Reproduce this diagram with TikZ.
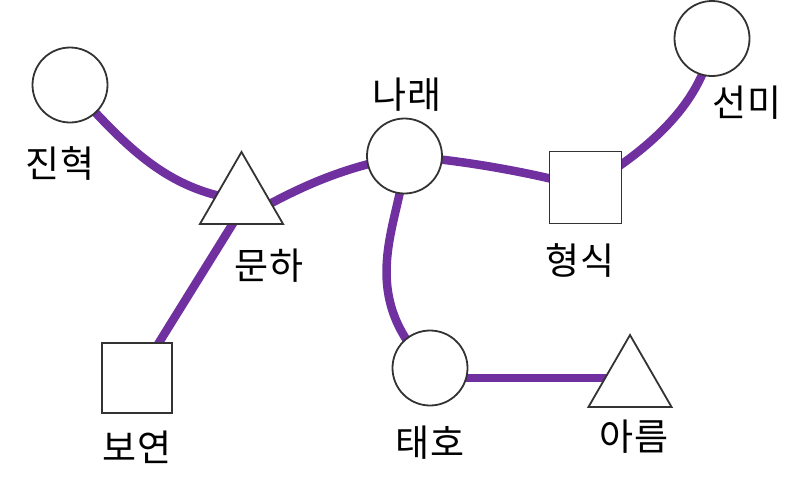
\documentclass[tikz,border=0pt]{standalone}
\usepackage{fontspec}
\setmainfont{Noto Sans CJK KR}
\usetikzlibrary{shapes.geometric,backgrounds}
\definecolor{edgepurple}{HTML}{7030A0}
\definecolor{nodegray}{HTML}{333333}
\tikzset{
  x=1pt,y=1pt,
  base/.style={draw=nodegray,line width=1.8pt,fill=white,inner sep=0pt,outer sep=0pt},
  circ/.style={base,circle,minimum size=75pt},
  sq/.style={base,rectangle,minimum size=70pt},
  tri/.style={base,regular polygon,regular polygon sides=3,minimum size=96pt},
  lbl/.style={font=\fontsize{37}{42}\selectfont,inner sep=0pt},
  link/.style={draw=edgepurple,line width=8.5pt}
}
\begin{document}
\begin{tikzpicture}
\useasboundingbox (0,0) rectangle (810,-493);
% nodes
\node[circ] (jh) at (70,-85) {};
\node[tri]  (mh) at (241.5,-200) {};
\node[circ] (nr) at (404.5,-156) {};
\node[sq,minimum size=72pt] (hs) at (585.5,-187.5) {};
\node[circ] (sm) at (712,-38.5) {};
\node[sq]   (by) at (137,-378) {};
\node[circ] (th) at (430,-368) {};
\node[tri]  (ar) at (630,-383) {};
% labels
\node[lbl] (ljh) at (60,-163) {진혁};
\node[lbl] (lmh) at (269,-266) {문하};
\node[lbl] (lnr) at (407,-95) {나래};
\node[lbl] (lsm) at (747,-103) {선미};
\node[lbl] (lhs) at (580,-260) {형식};
\node[lbl] (lby) at (137,-447) {보연};
\node[lbl] (lth) at (430,-443) {태호};
\node[lbl] (lar) at (634,-437) {아름};
% connectors
\begin{pgfonlayer}{background}
\draw[link] (jh.center) .. controls (125,-145) and (165,-190) .. (mh.center);
\draw[link] ([xshift=8.5pt,yshift=-14.6pt]mh.center) .. controls (300,-187) and (340,-168) .. (nr.center);
\draw[link] (nr.center) .. controls (460,-160) and (530,-172) .. (hs.center);
\draw[link] (hs.center) .. controls (650,-150) and (705,-100) .. (sm.center);
\draw[link] ([xshift=6pt]mh.center) -- (by.center);
\draw[link] (nr.center) .. controls (405,-215) and (350,-290) .. (th.center);
\draw[link] ([yshift=-10pt]th.center) -- ([yshift=5pt]ar.center);
\end{pgfonlayer}
\end{tikzpicture}
\end{document}
